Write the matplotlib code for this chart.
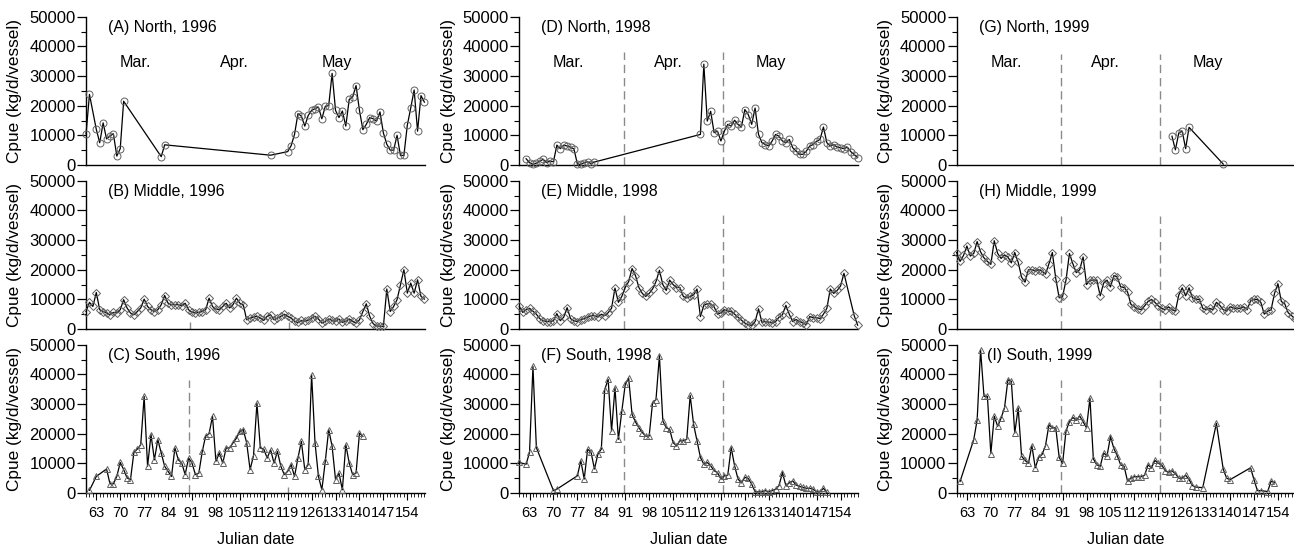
import matplotlib
matplotlib.use("Agg")
import matplotlib.pyplot as plt
from matplotlib.ticker import MultipleLocator

plt.rcParams['font.family'] = ['Liberation Sans', 'DejaVu Sans']
plt.rcParams['font.size'] = 11

# ---- data (Julian date, Cpue kg/d/vessel) ----
A_days = [60, 61, 63, 64, 65, 66, 67, 68, 69, 70, 71, 82, 83, 114] + list(range(119, 160))
A_vals = [10500, 23800, 12000, 7500, 14200, 8800, 9800, 10500, 3000, 5500, 21500, 2800, 6800, 3300,
          4500, 6500, 10300, 17300, 16500, 13100, 16700, 18400, 19000, 19500,
          15600, 19800, 20000, 30900, 18400, 16000, 18200, 13100, 22100, 22900,
          26800, 18400, 11900, 13700, 16000, 15600, 14800, 17900, 10800, 7000,
          5000, 5000, 10000, 3200, 3200, 13400, 19200, 25300, 11400, 23400, 21200]

B_days = list(range(60, 160))
B_vals = [5900, 9000, 7600, 12300, 6500, 5900, 5400, 4800, 5600, 5400, 6500, 9900,
          7100, 5400, 4800, 5900, 7100, 10100, 7600, 6500, 5900, 6500, 8200, 11300,
          8700, 8200, 8200, 8200, 7800, 8700, 6500, 5600, 5400, 5600, 5900, 6500, 10400,
          7600, 6700, 6500, 7600, 8700, 7100, 8200, 10400, 8700, 8200, 3100, 3700,
          4000, 4300, 3700, 2900, 4300, 4800, 3100, 3700, 4300, 5000,
          4300, 3700, 2600, 2200, 2900, 2600, 2900, 3700, 4300, 3400,
          2000, 2600, 3400, 2900, 2600, 3400, 2200, 2600, 3400, 2600,
          2000, 3100, 5900, 8500, 4300, 1800, 1100,
          900, 900, 13500,
          5900, 7600, 9900, 14900, 20000, 12100, 15500, 12100, 16600, 11000, 10100]

C_days = [61, 63] + list(range(66, 142))
C_vals = [900, 5600,
          8100, 3100, 3100, 5600, 10300, 7900, 5100, 4500, 13700, 14800,
          16300, 32600, 9000, 19700, 11200, 18000, 13500, 9000, 7300, 5600,
          15200, 11200, 10100, 6200, 11800, 10100, 6200, 6700, 14000, 19300,
          20000, 25900, 10700, 13500, 10100, 15200, 15200, 16900, 18500, 20800,
          21400, 16900, 7900, 12600, 30300, 15200, 14800, 11800, 14600, 10100,
          14000, 9000, 6200, 7300, 9600, 5600, 11800, 17400, 7900, 9600,
          39900, 16900, 5600, 1100, 10700, 21400, 15700, 4500, 6700, 1100,
          16300, 10100, 6200, 6700, 20200, 19100]

D_days = list(range(62, 83)) + list(range(113, 160))
D_vals = [2100, 800, 200, 600, 1300, 1900, 800, 1300, 1100, 6700, 5500, 6700, 6400, 6000,
          5400, 300, 200, 800, 1100, 400, 1000,
          10300, 34000, 14800, 18100, 10900, 11400, 8100, 11400, 13700, 13100,
          15100, 13700, 12800, 18700, 17000, 13700, 19200, 10300, 7500, 6900,
          6400, 8100, 10300, 9700, 8100, 7500, 8600, 5800, 4700, 3600,
          3600, 4700, 6400, 6900, 8000, 8600, 12800, 7500, 6400, 6900,
          6000, 5800, 5500, 6000, 4500, 3500, 2500]

E_days = list(range(60, 156)) + [158, 159]
E_vals = [7600, 5600, 6500, 7000, 6000, 5000, 3500, 2800, 2500, 2500,
          2800, 5200, 2800, 4000, 7200, 3500, 2800, 2500, 3200, 3500,
          4000, 4500, 4500, 4000, 5000, 4500, 5500, 7000, 13800, 9000,
          11000, 14000, 16000, 20400, 18000, 14000, 12000, 11000, 12000, 13500,
          16000, 19800, 15000, 13000, 16500, 15000, 14000, 14000, 11000, 10500,
          11000, 11500, 13500, 4200, 8000, 8500, 8500, 7500, 5000, 5500,
          6500, 6000, 6000, 5000, 4000, 3000, 2000, 1500, 1200, 2500,
          6800, 2300, 2500, 2300, 2000, 2500, 4000, 4800, 8000, 5000,
          2500, 3200, 2500, 2000, 1500, 4200, 3800, 3800, 3500, 5000,
          7000, 13500, 12000, 13000, 14500, 18800,
          4500, 1300]

F_days = [60, 62, 63, 64, 65, 70, 71] + list(range(77, 151))
F_vals = [10300, 9700, 13700, 42700, 15300, 800, 1300,
          5800, 10900, 4700, 14800, 13700, 8100, 13100, 14800, 34900, 38300,
          20900, 35500, 18100, 27600, 36600, 38800, 26500, 24000, 22000, 20400,
          19200, 19200, 30500, 31500, 46300, 24300, 22000, 21500, 17000, 15900,
          17600, 17600, 18100, 32900, 23200, 17600, 12000, 9700, 10300, 9200,
          7500, 6900, 4700, 5800, 6000, 15300, 9200, 4700, 3400, 5300,
          4900, 3000, 400, 400, 400, 800, 400, 800, 1300, 2500,
          6900, 2500, 3400, 4100, 2700, 2200, 1900, 1600, 1600, 1300,
          400, 400, 1600, 200]

G_days = [123, 124, 125, 126, 127, 128, 138]
G_vals = [9700, 5100, 10800, 11400, 5500, 12700, 300]

H_days = list(range(60, 160))
H_vals = [25800, 22800, 24800, 28000, 24600, 25500, 29500, 26000, 24000, 22800,
          21800, 29800, 25500, 23800, 25000, 24300, 22300, 25800, 22500, 17500,
          15800, 20000, 20000, 19500, 20000, 19500, 18500, 22000, 25800, 17000,
          10500, 11000, 16500, 25500, 22000, 19000, 20000, 24300, 15000, 16500,
          16500, 16500, 11200, 15500, 16500, 14200, 18000, 17500, 14200, 14000,
          12500, 8300, 7500, 6800, 6500, 7800, 9300, 10000, 9000, 7800,
          7000, 6500, 7500, 6500, 6000, 11500, 13900, 11200, 13900, 10500,
          10000, 10000, 7000, 6500, 7000, 6500, 9000, 8000, 6500, 6000,
          7500, 7000, 7000, 7000, 7500, 6500, 9500, 10000, 10000, 9000,
          5000, 6000, 6500, 12000, 15300, 9300, 8500, 5500, 4500, 3500]

I_days = [61] + list(range(65, 131)) + [132, 136, 138, 139, 140, 146, 147, 148, 149, 151, 152, 153]
I_vals = [3900,
          18000, 24700, 48300, 32600, 32600, 13300, 25900, 22500, 25300, 28700,
          38200, 37700, 20200, 28700, 12400,
          11000, 10000, 16000, 8500, 12000, 13000, 16000, 23000, 22000, 22000,
          12000, 10000, 21000, 24000, 25500, 24500, 26000, 24000, 22000, 32000,
          11500, 9500, 9000, 13500, 12500, 19000, 15000, 12500, 9500, 9000,
          4000, 5000, 5500, 5500, 5500, 6000, 9500, 8500, 11000, 10000,
          9500, 7500, 7000, 7500, 6500, 5000, 5000, 6000, 4500, 2500, 2000,
          1800, 23500, 8000, 5000, 4500, 8500, 4500, 800, 800, 500, 4000, 3500]

panel_titles = [["(A) North, 1996", "(B) Middle, 1996", "(C) South, 1996"],
                ["(D) North, 1998", "(E) Middle, 1998", "(F) South, 1998"],
                ["(G) North, 1999", "(H) Middle, 1999", "(I) South, 1999"]]
series = [[(A_days, A_vals), (B_days, B_vals), (C_days, C_vals)],
          [(D_days, D_vals), (E_days, E_vals), (F_days, F_vals)],
          [(G_days, G_vals), (H_days, H_vals), (I_days, I_vals)]]
months = ["Mar.", "Apr.", "May"]
month_pos = [74.5, 103.5, 133.5]
markers = ["o", "D", "^"]

# dashed month boundaries: (x, top) per panel
dashes = {
    (0, 1): [(90.5, 2500), (119.5, 2500)],
    (0, 2): [(90.0, 38000), (119.0, 2000)],
    (1, 0): [(90.5, 38000), (119.5, 38000)],
    (1, 1): [(90.5, 38500), (119.5, 38500)],
    (1, 2): [(90.5, 23000), (119.5, 38000)],
    (2, 0): [(90.5, 37500), (119.5, 37500)],
    (2, 1): [(90.5, 38000), (119.5, 38000)],
    (2, 2): [(90.5, 38000), (119.5, 38000)],
}

fig = plt.figure(figsize=(12.94, 5.49), dpi=100)
lefts = [0.0665, 0.4013, 0.7393]
bottoms = [0.6995, 0.4007, 0.102]
w, h = 0.262, 0.270

for c in range(3):
    for r in range(3):
        ax = fig.add_axes([lefts[c], bottoms[r], w, h])
        x, y = series[c][r]
        for xd, top in dashes.get((c, r), []):
            ax.plot([xd, xd], [0, top], color="#8a8a8a", lw=1.0,
                    linestyle=(0, (6, 3.5)), zorder=1)
        ax.plot(x, y, color="black", lw=0.9, zorder=2, clip_on=False)
        ms = 5.0 if markers[r] != "D" else 4.0
        ax.plot(x, y, linestyle="none", marker=markers[r], ms=ms,
                mfc="none", mec="#606060", mew=0.7, zorder=3, clip_on=False)
        ax.set_xlim(60, 159.2)
        ax.set_ylim(0, 50000)
        for s in ["top", "right"]:
            ax.spines[s].set_visible(False)
        ax.spines["left"].set_linewidth(1.0)
        ax.spines["bottom"].set_linewidth(1.0)
        ax.yaxis.set_major_locator(MultipleLocator(10000))
        ax.yaxis.set_minor_locator(MultipleLocator(5000))
        ax.tick_params(axis="y", which="major", length=6.5, width=0.9, pad=1, labelsize=12)
        ax.tick_params(axis="y", which="minor", length=3.5, width=0.8)
        ax.set_ylabel("Cpue (kg/d/vessel)", fontsize=12.4, labelpad=5)
        tx = 69 if (c, r) == (2, 2) else 66.5
        ax.text(tx, 46500, panel_titles[c][r], fontsize=11.4, va="center", ha="left")
        if r == 2:
            ax.set_xticks(list(range(63, 155, 7)))
            ax.xaxis.set_minor_locator(MultipleLocator(1))
            ax.tick_params(axis="x", which="major", length=5, width=0.8, pad=4, labelsize=10.5)
            ax.tick_params(axis="x", which="minor", length=3, width=0.6)
            ax.set_xlabel("Julian date", fontsize=11.5, labelpad=9)
        else:
            ax.tick_params(axis="x", which="both", bottom=False, labelbottom=False)
        if r == 0:
            for mx, mt in zip(month_pos, months):
                ax.text(mx, 34500, mt, fontsize=11.6, ha="center", va="center")

plt.savefig("out.png", dpi=100)
